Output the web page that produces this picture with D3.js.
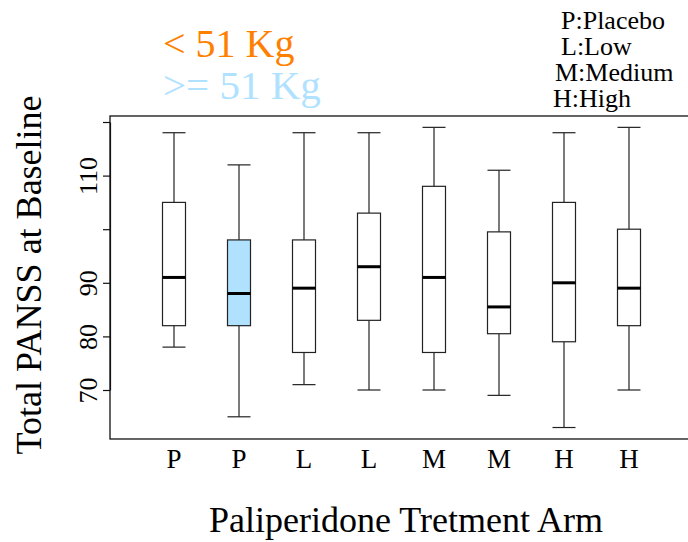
<!DOCTYPE html>
<html>
<head>
<meta charset="utf-8">
<script src="https://cdn.jsdelivr.net/npm/d3@7"></script>
<style>
  html, body { margin: 0; padding: 0; background: #fff; }
  svg { display: block; }
</style>
</head>
<body>
<svg id="chart" width="688" height="542"></svg>
<script>
// ---- data ----
const armLabels   = ["P", "P", "L", "L", "M", "M", "H", "H"];
const weightGroup = ["<51", ">=51", "<51", "<51", "<51", "<51", "<51", "<51"];
const whiskerHigh = [118, 112, 118, 118, 119, 111, 118, 119];
const q3Values    = [105, 98, 98, 103, 108, 99.5, 105, 100];
const medians     = [91, 88, 89, 93, 91, 85.5, 90, 89];
const q1Values    = [82, 82, 77, 83, 77, 80.5, 79, 82];
const whiskerLow  = [78, 65, 71, 70, 70, 69, 63, 70];
const yTickValues = [70, 80, 90, 100, 110, 120];
const yTickLabels = ["70", "80", "90", "", "110", ""];
const legendWeight = ["< 51 Kg", ">= 51 Kg"];
const legendArms   = ["P:Placebo", "L:Low", "M:Medium", "H:High"];

const boxFill = { "<51": "#ffffff", ">=51": "#b0e2ff" };
const legendColors = ["#ff7f00", "#b0e2ff"];
const SERIF = "'Liberation Serif', 'Times New Roman', Times, serif";

const svg = d3.select("#chart");

const x = d3.scaleLinear().domain([0, 9]).range([109, 694]);
const y = d3.scaleLinear().domain([70, 120]).range([390, 122]);
const yBottom = y(60.86), yTop = y(121.12);
const boxHalf = 11.5;

// plot frame
svg.append("rect")
  .attr("x", 110).attr("y", yTop)
  .attr("width", 700 - 110).attr("height", yBottom - yTop)
  .attr("fill", "none").attr("stroke", "#111").attr("stroke-width", 1.3);

// y axis
const yAxis = d3.axisLeft(y)
  .tickValues(yTickValues)
  .tickSize(7).tickSizeOuter(0)
  .tickFormat((d, i) => yTickLabels[i]);
const gy = svg.append("g").attr("transform", "translate(110,0)").call(yAxis);
gy.attr("font-family", null).attr("font-size", null);
gy.select(".domain").attr("stroke", "#111").attr("stroke-width", 1.2);
gy.selectAll(".tick line").attr("stroke", "#111").attr("stroke-width", 1.2);
gy.selectAll(".tick text")
  .attr("transform", "rotate(-90)")
  .attr("x", 0).attr("y", -13).attr("dy", 0)
  .attr("text-anchor", "middle")
  .attr("fill", "#000")
  .style("font-size", "26px")
  .style("font-family", SERIF);

// boxes
const idx = d3.range(armLabels.length);
const g = svg.append("g");
idx.forEach(i => {
  const cx = x(i + 1);
  const bg = g.append("g");
  bg.append("line").attr("x1", cx).attr("x2", cx)
    .attr("y1", y(whiskerHigh[i])).attr("y2", y(q3Values[i]))
    .attr("stroke", "#222").attr("stroke-width", 1.2);
  bg.append("line").attr("x1", cx).attr("x2", cx)
    .attr("y1", y(q1Values[i])).attr("y2", y(whiskerLow[i]))
    .attr("stroke", "#222").attr("stroke-width", 1.2);
  [whiskerHigh[i], whiskerLow[i]].forEach(v => {
    bg.append("line").attr("x1", cx - boxHalf).attr("x2", cx + boxHalf)
      .attr("y1", y(v)).attr("y2", y(v))
      .attr("stroke", "#222").attr("stroke-width", 1.2);
  });
  bg.append("rect")
    .attr("x", cx - boxHalf).attr("y", y(q3Values[i]))
    .attr("width", boxHalf * 2).attr("height", y(q1Values[i]) - y(q3Values[i]))
    .attr("fill", boxFill[weightGroup[i]])
    .attr("stroke", "#222").attr("stroke-width", 1.2);
  bg.append("line").attr("x1", cx - boxHalf).attr("x2", cx + boxHalf)
    .attr("y1", y(medians[i])).attr("y2", y(medians[i]))
    .attr("stroke", "#000").attr("stroke-width", 3);
});

// x labels
svg.append("g").selectAll("text").data(idx).join("text")
  .attr("x", i => x(i + 1)).attr("y", 468)
  .attr("text-anchor", "middle")
  .style("font-family", SERIF)
  .style("font-size", "27px")
  .text(i => armLabels[i]);

// axis titles
svg.append("text")
  .attr("transform", "translate(41,275) rotate(-90)")
  .attr("text-anchor", "middle")
  .style("font-family", SERIF)
  .style("font-size", "36px")
  .text("Total PANSS at Baseline");

svg.append("text")
  .attr("x", 406).attr("y", 532)
  .attr("text-anchor", "middle")
  .style("font-family", SERIF)
  .style("font-size", "36px")
  .text("Paliperidone Tretment Arm");

// weight legend
const wY = [57, 99];
const wSize = [40, 41];
legendWeight.forEach((t, i) => {
  svg.append("text")
    .attr("x", 163).attr("y", wY[i])
    .attr("fill", legendColors[i])
    .style("font-family", SERIF)
    .style("font-size", wSize[i] + "px")
    .text(t);
});

// arm legend
const aX = [561, 561, 555, 553];
const aY = [29, 55, 81, 107];
legendArms.forEach((t, i) => {
  svg.append("text")
    .attr("x", aX[i]).attr("y", aY[i])
    .style("font-family", SERIF)
    .style("font-size", "26px")
    .text(t);
});
</script>
</body>
</html>
